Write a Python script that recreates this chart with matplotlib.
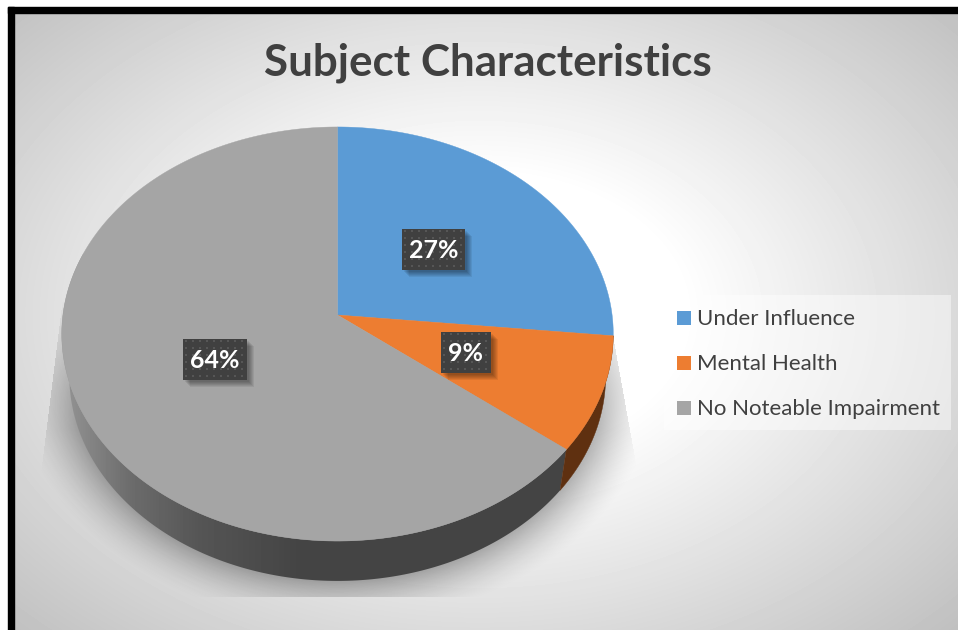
import numpy as np
import matplotlib
matplotlib.use("Agg")
import matplotlib.pyplot as plt
from matplotlib.patches import Polygon, Rectangle

# datos
categorias = ["Under Influence", "Mental Health", "No Noteable Impairment"]
valores = [26.6, 9.0, 64.4]
colores = ["#5B9BD5", "#ED7D31", "#A5A5A5"]
colores_lado = ["#2A4D6E", "#5F3010", "#444444"]
titulo = "Subject Characteristics"

plt.rcParams["font.family"] = ["Lato", "DejaVu Sans"]

fig = plt.figure(figsize=(9.58, 6.3), dpi=100)
ax = fig.add_axes([0, 0, 1, 1])
ax.axis("off")

# fondo con degradado radial
xx, yy = np.meshgrid(np.arange(958) + 0.5, np.arange(630) + 0.5)
d = np.sqrt(((xx - 480) / 480) ** 2 + ((yy - 315) / 330) ** 2) / np.sqrt(2)
gris = 255 - 66 * np.clip((d - 0.3) / 0.7, 0, 1)
ax.imshow(gris, cmap="gray", vmin=0, vmax=255, extent=(0, 958, 630, 0), zorder=0)

# marco negro
ax.add_patch(Rectangle((0, 0), 958, 7, color="white", zorder=1))
ax.add_patch(Rectangle((0, 0), 8, 630, color="white", zorder=1))
ax.add_patch(Rectangle((8, 7), 950, 6, color="black", zorder=1))
ax.add_patch(Rectangle((8, 7), 6, 623, color="black", zorder=1))


# perspectiva del disco
def proy(ang, cy=315, a=274.6, b=205.3, k=0.0918):
    x = np.sin(ang)
    y = np.cos(ang)
    return np.column_stack((337.5 + a * x / (1 + k * y), cy - b * y / (1 + k * y)))


def proy_base(ang):
    return proy(ang, cy=357.4, a=267, b=203)


# sombra bajo el disco
rad = np.sqrt(((xx - 337) / 268) ** 2 + ((yy - 374) / 207) ** 2)
dist = (rad - 1) * 235
alfa = 0.3 * np.clip(1 - dist / 50, 0, 1) ** 1.6
alfa *= np.clip((yy - 300) / 130, 0, 1) ** 0.7
alfa[yy > 597] = 0
alfa[xx < 64 - (yy - 290) * 0.125] = 0
alfa[xx > 612 + (yy - 330) * 0.18] = 0
sombra = np.zeros((630, 958, 4))
sombra[..., 3] = alfa
ax.imshow(sombra, extent=(0, 958, 630, 0), zorder=2)

# angulos de los sectores
fracciones = np.array(valores) / sum(valores)
limites = np.concatenate(([0], np.cumsum(fracciones))) * 2 * np.pi

# lados del disco
lado_ang = np.linspace(limites[2], 1.6 * np.pi, 200)
pts = np.vstack((proy(lado_ang), proy_base(lado_ang)[::-1]))
lado_gris = Polygon(pts, closed=True, fc="none", ec="none", zorder=3)
ax.add_patch(lado_gris)
x_grad = [60, 130, 200, 300, 340, 570]
v_grad = [150, 108, 85, 68, 68, 68]
tira = np.interp(np.arange(958), x_grad, v_grad)[None, :]
img = ax.imshow(tira, cmap="gray", vmin=0, vmax=255, extent=(0, 958, 630, 0),
                aspect="auto", zorder=3)
img.set_clip_path(lado_gris)

lado_ang = np.linspace(limites[1], limites[2], 60)
pts = np.vstack((proy(lado_ang), proy_base(lado_ang)[::-1]))
ax.add_patch(Polygon(pts, closed=True, fc=colores_lado[1], ec=colores_lado[1], lw=0.3, zorder=3))

# cara superior
for i in range(3):
    ang = np.linspace(limites[i], limites[i + 1], 240)
    pts = np.vstack(([[337.5, 315]], proy(ang)))
    ax.add_patch(Polygon(pts, closed=True, fc=colores[i], ec=colores[i], lw=0.3, zorder=4))

# etiquetas de porcentaje
cajas = [(402, 229, 63, 41), (441, 332, 50, 41), (183, 339, 64, 41)]
for v, (x, y, w, h) in zip(valores, cajas):
    for off in [2, 3, 4, 5, 6, 7]:
        ax.add_patch(Rectangle((x + off, y + off), w, h, fc="black", ec="none", alpha=0.07, zorder=5))
    ax.add_patch(Rectangle((x, y), w, h, fc="#404040", ec="none", zorder=6))
    puntos_x, puntos_y = np.meshgrid(np.arange(x + 3, x + w, 7), np.arange(y + 2, y + h, 7))
    ax.scatter(puntos_x.ravel(), puntos_y.ravel(), s=2, c="#565656", marker="s",
               linewidths=0, zorder=6)
    ax.text(x + w / 2, y + h / 2 + 1, f"{v:.0f}%", color="white", fontsize=18, fontweight="bold",
            ha="center", va="center", zorder=7)

# titulo
ax.text(488, 63, titulo, color="#404040", fontsize=31.7, fontweight="bold",
        ha="center", va="center", zorder=7)

# leyenda
ax.add_patch(Rectangle((664, 295), 287, 135, fc="white", ec="none", alpha=0.45, zorder=5))
for i, nombre in enumerate(categorias):
    y = 318 + 45 * i
    ax.add_patch(Rectangle((677, y - 7), 14, 14, fc=colores[i], ec="none", zorder=6))
    ax.text(697, y + 1, nombre, color="#404040", fontsize=16, ha="left", va="center", zorder=7)

ax.set_xlim(0, 958)
ax.set_ylim(630, 0)

fig.savefig("out.png", dpi=100)
